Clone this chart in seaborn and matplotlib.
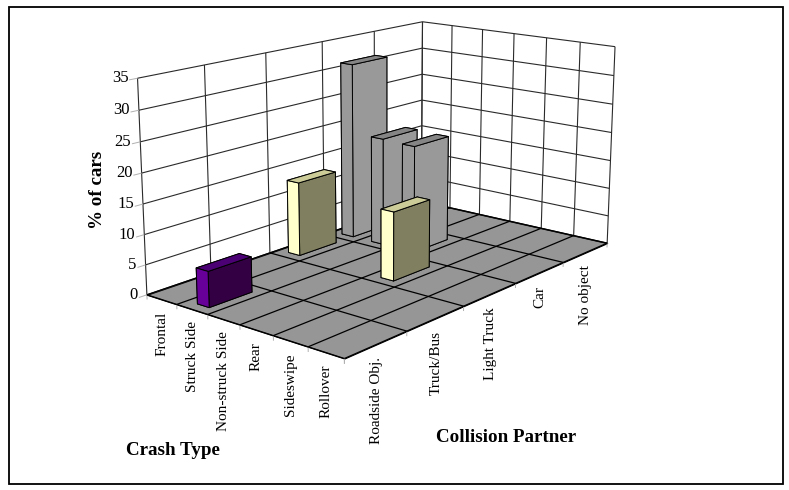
""" Share of cars by crash type and collision partner, 3D bars """

import matplotlib
matplotlib.use("Agg")
import matplotlib.pyplot as plt
import numpy as np
import seaborn as sns
from matplotlib.patches import Rectangle
from mpl_toolkits.mplot3d.art3d import Line3DCollection, Poly3DCollection

crash_types = ["Frontal", "Struck Side", "Non-struck Side", "Rear", "Sideswipe", "Rollover"]
partners = ["Roadside Obj.", "Truck/Bus", "Light Truck", "Car", "No object"]
percent_ticks = [0, 5, 10, 15, 20, 25, 30, 35]

# one row per collision partner, one column per crash type
roadside_values = [0, 5.9, 0, 0, 0, 0]
light_truck_values = [12.9, 0, 0, 11.7, 0, 0]
car_values = [31.2, 19, 18.8, 0, 0, 0]

purple_faces = ["#4b0073", "#4b0073", "#660099", "#330044", "#330044", "#330044"]
yellow_faces = ["#cccc99", "#cccc99", "#ffffcc", "#808060", "#808060", "#808060"]
grey_faces = ["#858585", "#858585", "#999999", "#999999", "#999999", "#999999"]

# where box corners and axis ticks sit in the reference, used to fit the camera
camera_world = [
    (0, 0, 0), (6, 0, 0), (6, 5, 0), (0, 5, 0), (0, 0, 35), (0, 5, 35), (6, 5, 35),
    (1, 0, 0), (3, 0, 0), (6, 1, 0), (6, 3, 0), (0, 1, 35), (0, 3, 35),
]
camera_pixels = [
    (147, 294), (343, 358), (606.7, 242.3), (421, 202), (138, 78), (422.7, 21), (615, 47.3),
    (177, 305), (240, 325), (407, 332), (517, 283), (204, 65), (322, 42),
]

WIDTH, HEIGHT = 789, 490


def fit_camera(axes):
    """ Projection matrix for mplot3d from the reference's corners """
    world = np.array(camera_world, dtype=float)
    display = np.array(camera_pixels, dtype=float)
    display[:, 1] = HEIGHT - display[:, 1]
    view = axes.transData.inverted().transform(display)

    scale = np.array([6.0, 5.0, 35.0])
    rows = []
    for (wx, wy, wz), (u, v) in zip(world / scale, view):
        rows.append([wx, wy, wz, 1, 0, 0, 0, 0, -u * wx, -u * wy, -u * wz, -u])
        rows.append([0, 0, 0, 0, wx, wy, wz, 1, -v * wx, -v * wy, -v * wz, -v])
    solution = np.linalg.svd(np.array(rows))[2][-1].reshape(3, 4)
    solution = solution / solution[2, 3]

    depth = [-1.0, 1.0, -0.4, 0.0]
    matrix = np.vstack([solution[0], solution[1], depth, solution[2]])
    return matrix @ np.diag([1 / 6, 1 / 5, 1 / 35, 1])


def draw_bars(axes, row, values, faces, order):
    for column, value in enumerate(values):
        if value > 0:
            bar = axes.bar3d(column + 0.33, row + 0.16, 0, 0.38, 0.67, value, color=faces,
                             shade=False, edgecolor="black", linewidth=0.7)
            bar.set_zorder(order + column * 0.1)


def label_at(axes, camera, point, text, offset, **kwargs):
    """ Upright label a few pixels from a point of the box """
    x, y, z, w = camera @ np.array([*point, 1.0])
    axes.annotate(text, xy=(x / w, y / w), xycoords="data", xytext=offset,
                  textcoords="offset pixels", color="black", annotation_clip=False, **kwargs)


sns.set_theme(style="white", font="Liberation Serif")

figure = plt.figure(figsize=(WIDTH / 100, HEIGHT / 100), dpi=100, facecolor="white")
# mplot3d keeps its box square, so make it as wide as the figure and let it overflow
axes = figure.add_axes([0, (1 - WIDTH / HEIGHT) / 2, 1, WIDTH / HEIGHT],
                       projection="3d", computed_zorder=False)
axes.set_axis_off()
axes.patch.set_visible(False)

n_x, n_y, top = len(crash_types), len(partners), percent_ticks[-1]

floor = Poly3DCollection([[(0, 0, 0), (n_x, 0, 0), (n_x, n_y, 0), (0, n_y, 0)]],
                         facecolor="#969696", edgecolor="black", linewidth=0.8, zorder=0.5)
axes.add_collection3d(floor)

wall_lines, floor_lines, tick_lines = [], [], []
for z in percent_ticks:
    wall_lines += [[(0, 0, z), (0, n_y, z)], [(0, n_y, z), (n_x, n_y, z)]]
    tick_lines.append([(0, -0.12, z), (0, 0, z)])
for y in range(n_y + 1):
    wall_lines.append([(0, y, 0), (0, y, top)])
    floor_lines.append([(0, y, 0), (n_x, y, 0)])
    tick_lines.append([(n_x, y, 0), (n_x, y, -0.8)])
for x in range(n_x + 1):
    wall_lines.append([(x, n_y, 0), (x, n_y, top)])
    floor_lines.append([(x, 0, 0), (x, n_y, 0)])
    tick_lines.append([(x, 0, 0), (x, 0, -0.8)])

axes.add_collection3d(Line3DCollection(wall_lines, colors="#2a2a2a", linewidths=0.8, zorder=1))
axes.add_collection3d(Line3DCollection(floor_lines, colors="black", linewidths=0.9, zorder=1.1))
axes.add_collection3d(Line3DCollection(tick_lines, colors="#b0b0b0", linewidths=0.7, zorder=1))

draw_bars(axes, 3, car_values, grey_faces, 3)
draw_bars(axes, 2, light_truck_values, yellow_faces, 4)
draw_bars(axes, 0, roadside_values, purple_faces, 5)

figure.text(97 / WIDTH, 1 - 190 / HEIGHT, "% of cars", rotation=90, ha="center", va="center",
            fontsize=13.7, fontweight="bold", color="black")
figure.text(172.5 / WIDTH, 1 - 450 / HEIGHT, "Crash Type", ha="center", va="center",
            fontsize=13.7, fontweight="bold", color="black")
figure.text(506.5 / WIDTH, 1 - 437 / HEIGHT, "Collision Partner", ha="center", va="center",
            fontsize=13.7, fontweight="bold", color="black")

figure.add_artist(Rectangle((9 / WIDTH, 1 - 484 / HEIGHT), 774 / WIDTH, 476.5 / HEIGHT,
                            transform=figure.transFigure, fill=False, edgecolor="black", linewidth=1.3))

camera = fit_camera(axes)
axes.get_proj = lambda: camera

for z in percent_ticks:
    label_at(axes, camera, (0, 0, z), str(z), (-9, 0), ha="right", va="center", fontsize=12)
for x, name in enumerate(crash_types):
    label_at(axes, camera, (x + 0.5, 0, 0), name, (0, -12), rotation=90, ha="center", va="top", fontsize=11)
for y, name in enumerate(partners):
    label_at(axes, camera, (n_x, y + 0.5, 0), name, (0, -13), rotation=90, ha="center", va="top", fontsize=11)

figure.savefig("out.png", dpi=100)
